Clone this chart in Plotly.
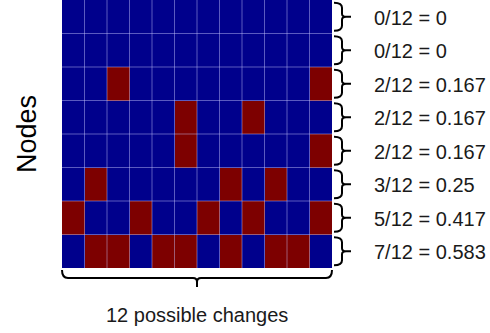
import plotly.graph_objects as go

# Node-by-change matrix: 1 = change observed, 0 = none (row 0 drawn at top)
node_rows = [
    [0, 0, 0, 0, 0, 0, 0, 0, 0, 0, 0, 0],
    [0, 0, 0, 0, 0, 0, 0, 0, 0, 0, 0, 0],
    [0, 0, 1, 0, 0, 0, 0, 0, 0, 0, 0, 1],
    [0, 0, 0, 0, 0, 1, 0, 0, 1, 0, 0, 0],
    [0, 0, 0, 0, 0, 1, 0, 0, 0, 0, 0, 1],
    [0, 1, 0, 0, 0, 0, 0, 1, 0, 1, 0, 0],
    [1, 0, 0, 1, 0, 0, 1, 0, 1, 0, 0, 1],
    [0, 1, 1, 0, 1, 1, 0, 1, 0, 1, 1, 0],
]
row_labels = ["0/12 = 0", "0/12 = 0", "2/12 = 0.167", "2/12 = 0.167",
              "2/12 = 0.167", "3/12 = 0.25", "5/12 = 0.417", "7/12 = 0.583"]
n_changes = 12
x_title = "12 possible changes"
y_title = "Nodes"

BLUE = "#00008C"
RED = "#7D0000"
FONT = "Liberation Sans, Arial, sans-serif"

n_rows = len(node_rows)
n_cols = len(node_rows[0])

fig = go.Figure(go.Heatmap(
    z=node_rows[::-1],
    x=list(range(n_cols)),
    y=list(range(n_rows)),
    colorscale=[[0, BLUE], [0.5, BLUE], [0.5, RED], [1, RED]],
    zmin=0, zmax=1,
    showscale=False,
    hoverinfo="skip",
))

shapes = []
# thin light cell borders
for c in range(1, n_cols):
    shapes.append(dict(type="line", xref="x", yref="y", x0=c - 0.5, x1=c - 0.5,
                       y0=-0.5, y1=n_rows - 0.5,
                       line=dict(color="rgba(200,200,255,0.45)", width=1), layer="above"))
for r in range(1, n_rows):
    shapes.append(dict(type="line", xref="x", yref="y", x0=-0.5, x1=n_cols - 0.5,
                       y0=r - 0.5, y1=r - 0.5,
                       line=dict(color="rgba(200,200,255,0.45)", width=1), layer="above"))

# right-hand curly braces, one per row
h = 14  # half height in px
brace_r = (f"M 2,{h} Q 10,{h} 10,{h-5} L 10,3 Q 10,0 14,0 L 19,0 "
           f"M 14,0 Q 10,0 10,-3 L 10,{-h+5} Q 10,{-h} 2,{-h}")
annotations = []
for i, lab in enumerate(row_labels):
    yc = n_rows - 1 - i
    frac = (yc + 0.5) / n_rows
    shapes.append(dict(type="path", xref="paper", yref="paper",
                       xsizemode="pixel", ysizemode="pixel",
                       xanchor=1, yanchor=frac, path=brace_r,
                       line=dict(color="black", width=2)))
    annotations.append(dict(xref="paper", yref="paper", x=1, y=frac,
                            xshift=40, yshift=-1, xanchor="left", yanchor="middle",
                            text=lab, showarrow=False,
                            font=dict(family=FONT, size=20, color="#1a1a1a")))

# bottom brace spanning all columns
w = 135
brace_b = (f"M {-w},-2 Q {-w},-10 {-w+6},-10 L -4,-10 Q 0,-10 0,-14 L 0,-19 "
           f"M 0,-14 Q 0,-10 4,-10 L {w-6},-10 Q {w},-10 {w},-2")
shapes.append(dict(type="path", xref="paper", yref="paper",
                   xsizemode="pixel", ysizemode="pixel",
                   xanchor=0.5, yanchor=0, path=brace_b,
                   line=dict(color="black", width=2)))
annotations.append(dict(xref="paper", yref="paper", x=0.5, y=0, yshift=-47,
                        xanchor="center", yanchor="middle", text=x_title,
                        showarrow=False,
                        font=dict(family=FONT, size=20, color="#1a1a1a")))
annotations.append(dict(xref="paper", yref="paper", x=0, y=0.5, xshift=-35,
                        xanchor="center", yanchor="middle", text=y_title,
                        textangle=-90, showarrow=False,
                        font=dict(family=FONT, size=27, color="black")))

fig.update_layout(
    width=490, height=333,
    margin=dict(l=62, r=158, t=0, b=65),
    paper_bgcolor="white", plot_bgcolor="white",
    xaxis=dict(range=[-0.5, n_cols - 0.5], visible=False, fixedrange=True),
    yaxis=dict(range=[-0.5, n_rows - 0.5], visible=False, fixedrange=True),
    shapes=shapes,
    annotations=annotations,
    showlegend=False,
)

fig.write_html("out.html")
